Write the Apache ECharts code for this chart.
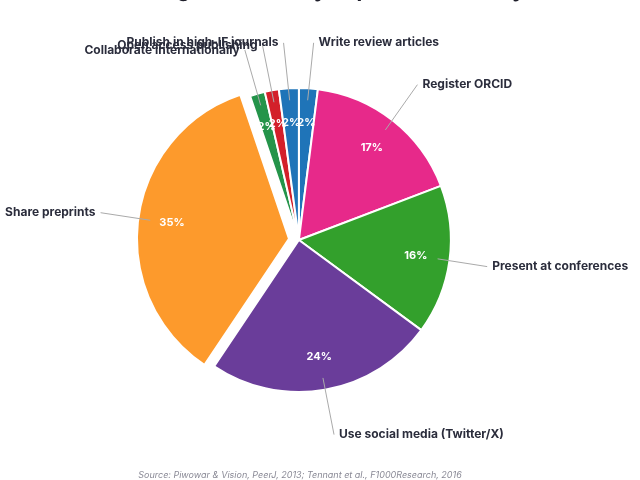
<!DOCTYPE html>
<html>
<head>
<meta charset="utf-8">
<title>Visibility strategies</title>
<script src="https://cdn.jsdelivr.net/npm/echarts@6/dist/echarts.min.js"></script>
<style>
  html, body { margin: 0; padding: 0; background: #fff; }
  #chart { width: 640px; height: 480px; }
</style>
</head>
<body>
<div id="chart"></div>
<script>
// slices go clockwise from 12 o'clock
const categories = [
  'Write review articles',
  'Register ORCID',
  'Present at conferences',
  'Use social media (Twitter/X)',
  'Share preprints',
  'Collaborate internationally',
  'Open access publishing',
  'Publish in high-IF journals'
]
const shares = [2.0, 17.2, 15.9, 24.3, 35.4, 1.6, 1.5, 2.1]
const colors = ['#1f74b8', '#e7298a', '#33a02c', '#6a3d9a', '#fd9a2c', '#24944a', '#d3202a', '#1f74b8']
const pulledOut = 'Share preprints'

const font = 'Inter, "Open Sans", sans-serif'
const center = ['46.7%', '50%']

function buildData(withColor) {
  return categories.map((name, i) => ({
    name: name,
    value: shares[i],
    selected: name === pulledOut,
    itemStyle: withColor
      ? { color: colors[i], borderColor: '#fff', borderWidth: 2 }
      : { color: 'rgba(0,0,0,0)', borderWidth: 0 }
  }))
}

const common = {
  type: 'pie',
  center: center,
  startAngle: 90,
  clockwise: true,
  selectedMode: 'single',
  selectedOffset: 10,
  percentPrecision: 0,
  avoidLabelOverlap: false,
  minShowLabelAngle: 0,
  labelLayout: { hideOverlap: false },
  emphasis: { disabled: true },
  animation: false
}

const chart = echarts.init(document.getElementById('chart'))
const midY = chart.getHeight() / 2

chart.setOption({
  backgroundColor: '#fff',
  title: {
    text: 'Strategies ranked by impact on visibility',
    left: 'center',
    top: -25,
    textStyle: { fontFamily: font, fontSize: 21, fontWeight: 'bold', color: '#1e1e2a' }
  },
  graphic: [{
    type: 'text',
    x: 300,
    y: 471,
    style: {
      text: 'Source: Piwowar & Vision, PeerJ, 2013; Tennant et al., F1000Research, 2016',
      font: 'italic 9px ' + font,
      fill: '#8a8a96',
      align: 'center'
    }
  }],
  series: [
    // coloured slices
    Object.assign({}, common, {
      radius: 152,
      z: 2,
      data: buildData(true),
      label: { show: false },
      labelLine: { show: false }
    }),
    // percent labels, placed ~3/4 of the way out
    Object.assign({}, common, {
      radius: 230,
      z: 4,
      silent: true,
      data: buildData(false),
      label: {
        show: true,
        position: 'inside',
        formatter: '{d}%',
        color: '#fff',
        fontFamily: font,
        fontSize: 11,
        fontWeight: 'bold'
      },
      labelLine: { show: false }
    }),
    // names with leader lines, nudged away from the middle a little
    Object.assign({}, common, {
      radius: 140,
      z: 3,
      silent: true,
      data: buildData(false),
      labelLayout: function (params) {
        const r = params.labelRect
        const dy = (r.y + r.height / 2 - midY) / 195 * 11
        const pts = params.labelLinePoints
        const out = { dy: dy, hideOverlap: false }
        if (pts) {
          // one straight line from inside the slice to the moved label
          const end = [pts[2][0], pts[2][1] + dy]
          out.labelLinePoints = [pts[0], end, end]
        }
        return out
      },
      label: {
        show: true,
        position: 'outside',
        formatter: '{b}',
        color: '#2b2d3c',
        fontFamily: font,
        fontSize: 12,
        fontWeight: 'bold'
      },
      labelLine: {
        show: true,
        length: 47,
        length2: 3,
        lineStyle: { color: '#aaa', width: 1 }
      }
    })
  ]
})
</script>
</body>
</html>
